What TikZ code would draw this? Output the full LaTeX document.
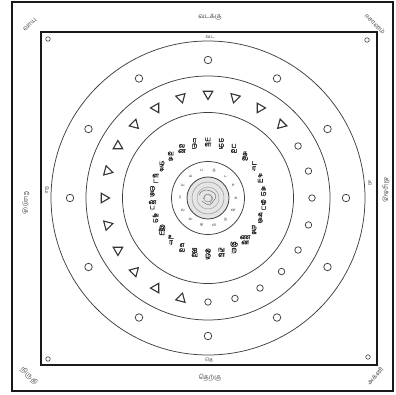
\documentclass[tikz,border=0pt]{standalone}
\usepackage{fontspec}
\newfontfamily\tamil[Script=Tamil]{Hind Madurai}
\newfontfamily\tamilb[Script=Tamil,FakeBold=1.5]{Hind Madurai}
\usetikzlibrary{shapes.geometric,calc}
\begin{document}
\begin{tikzpicture}[x=1pt,y=1pt,
 frame/.style={draw=black!90, line width=2.2pt},
 ringline/.style={draw=black!75, line width=0.75pt},
 dotc/.style={draw=black!75, line width=0.75pt, circle, inner sep=0pt, minimum size=7.5pt},
 cornerdot/.style={draw=black!75, line width=0.6pt, circle, inner sep=0pt, minimum size=4.5pt},
 tri/.style={draw=black!80, line width=1.1pt, regular polygon, regular polygon sides=3, inner sep=0pt, minimum size=11pt},
 lbl/.style={font=\tamil\fontsize{6.5}{6.5}\selectfont, text=black!70, inner sep=0pt},
 slbl/.style={font=\tamil\fontsize{5}{5}\selectfont, text=black!70, inner sep=0pt},
 glyph/.style={font=\tamilb\fontsize{6.5}{5.2}\selectfont, text=black!85, inner sep=0pt, align=center},
 tglyph/.style={font=\tamil\fontsize{4}{4}\selectfont, text=black!75, inner sep=0pt},
]
\useasboundingbox (0,0) rectangle (396,394);
\fill[white] (0,0) rectangle (396,394);
\coordinate (C) at (208,196);
% frames
\draw[frame] (12,3) rectangle (393,392);
\draw[frame] (41,29) rectangle (377,362);
% rings
\draw[ringline] (C) circle[radius=157];
\draw[ringline] (C) circle[radius=122];
\draw[ringline] (C) circle[radius=85.5];
\draw[ringline] (C) circle[radius=36.5];
\draw[ringline, line width=0.8pt, fill=black!10] (C) circle[radius=21];
\draw[ringline, line width=0.45pt, draw=black!45] (C) circle[radius=16];
\draw[ringline, line width=0.4pt, draw=black!40] (C) circle[radius=11];
% centre scribble
\draw[black!55, line width=0.5pt] (C) ++(-9,3) .. controls ++(4,7) and ++(-6,4) .. ++(15,2)
  .. controls ++(4,-3) and ++(3,4) .. ++(-2,-10) .. controls ++(-3,-4) and ++(4,-3) .. ++(-10,2);
\draw[black!50, line width=0.45pt] (C) ++(-5,-1) .. controls ++(2,5) and ++(-3,3) .. ++(8,3)
  .. controls ++(3,-2) and ++(2,3) .. ++(-1,-7);
\draw[ringline, line width=0.4pt, draw=black!50] (C) circle[radius=4];
% outer ring small circles
\foreach \a [count=\k] in {0,30,...,330}
  \node[dotc] (od\k) at ($(C)+(\a:138)$) {};
% triangles and circles in middle ring
\foreach \a [count=\k] in {45,60,...,255}
  \node[tri, rotate=\a+90] (tr\k) at ($(C)+(\a:104)$) {};
\foreach \a [count=\k] in {270,285,...,390}
  \node[dotc, minimum size=6.5pt] (md\k) at ($(C)+(\a:104)$) {};
% glyph ring
\foreach \t [count=\k] in {{க\\ம},{ச\\ய},{ட\\ர},{த\\ல},{ப\\வ},{ம\\ழ},{ய\\ள},{ர\\ற},{ல\\ன},{வ\\க},{ழ\\ச},{ள\\ட},{ற\\த},{ன\\ப},{அ\\ம},{இ\\ய},{உ\\ர},{எ\\ல},{ஐ\\வ},{ஒ\\ழ},{ங\\ள},{ஞ\\ற},{ண\\ன},{ந\\க},{ஏ\\த},{ஓ\\ப}}
  \node[glyph] (g\k) at ($(C)+({7+(\k-1)*360/26}:56)$) {\t};
% tiny ring inside
\foreach \t [count=\k] in {க,ச,ட,த,ப,ம,ய,ர,ல,வ,ழ,ள,ற,ன}
  \node[tglyph] (tg\k) at ($(C)+({(\k-1)*360/14}:28)$) {\t};
% corner dots of inner frame
\node[cornerdot] (cd1) at (48,355) {};
\node[cornerdot] (cd2) at (367,354) {};
\node[cornerdot] (cd3) at (48,35) {};
\node[cornerdot] (cd4) at (368,37) {};
% labels
\node[lbl] (north) at (210,377) {வடக்கு};
\node[slbl] (northin) at (210,357) {வட};
\node[lbl] (south) at (210,16) {தெற்கு};
\node[slbl] (southin) at (209,34) {தெ};
\node[lbl, rotate=-90] (west) at (26,191) {மேற்கு};
\node[slbl, rotate=-90] (westin) at (47,204) {மே};
\node[lbl, rotate=-90] (east) at (386,204) {கிழக்கு};
\node[slbl, rotate=-90] (eastin) at (370,211) {கி};
\node[lbl, rotate=45] (nw) at (30,369) {வாயு};
\node[lbl, rotate=-45] (ne) at (375,370) {ஈசானம்};
\node[lbl, rotate=-45] (sw) at (29,18) {நிருதி};
\node[lbl, rotate=45] (se) at (375,18) {அக்னி};
\end{tikzpicture}
\end{document}
